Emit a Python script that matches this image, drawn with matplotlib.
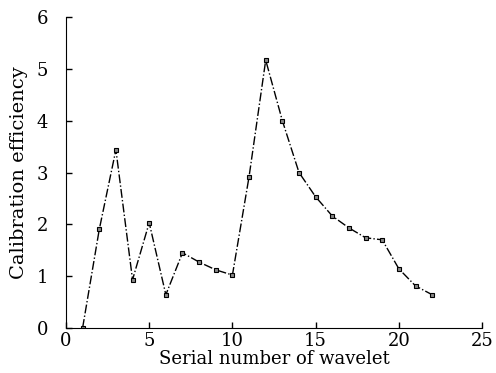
import numpy as np
import matplotlib.pyplot as plt

# calibration efficiency for each wavelet
serial = [1, 2, 3, 4, 5, 6, 7, 8, 9, 10, 11, 12, 13, 14, 15, 16, 17, 18, 19, 20, 21, 22]
efficiency = [0.0, 1.9, 3.44, 0.93, 2.03, 0.64, 1.45, 1.27, 1.12, 1.02, 2.92, 5.17,
              4.0, 3.0, 2.53, 2.16, 1.93, 1.74, 1.70, 1.14, 0.81, 0.64]

plt.rcParams['font.family'] = 'DejaVu Serif'
label_fontsize = 13

fig = plt.figure(figsize=(4.96, 3.73), dpi=100)
ax = fig.add_axes([0.133, 0.121, 0.839, 0.833])

ax.plot(serial, efficiency, color='k', linestyle='-.', linewidth=1.0,
        marker='s', markersize=3.5, markerfacecolor='#888888', markeredgecolor='k',
        markeredgewidth=0.8)

ax.set_xlim(0, 25)
ax.set_ylim(0, 6)
ax.set_xticks([0, 5, 10, 15, 20, 25])
ax.set_yticks([0, 1, 2, 3, 4, 5, 6])
ax.spines['top'].set_visible(False)
ax.spines['right'].set_visible(False)
ax.tick_params(direction='in', length=4, width=1, labelsize=label_fontsize)
ax.tick_params(axis='x', pad=3)
ax.tick_params(axis='y', pad=13)
ax.set_xlabel("Serial number of wavelet", fontsize=label_fontsize, labelpad=0)
ax.set_ylabel("Calibration efficiency", fontsize=14, labelpad=6)

plt.savefig("out.png", dpi=100)
